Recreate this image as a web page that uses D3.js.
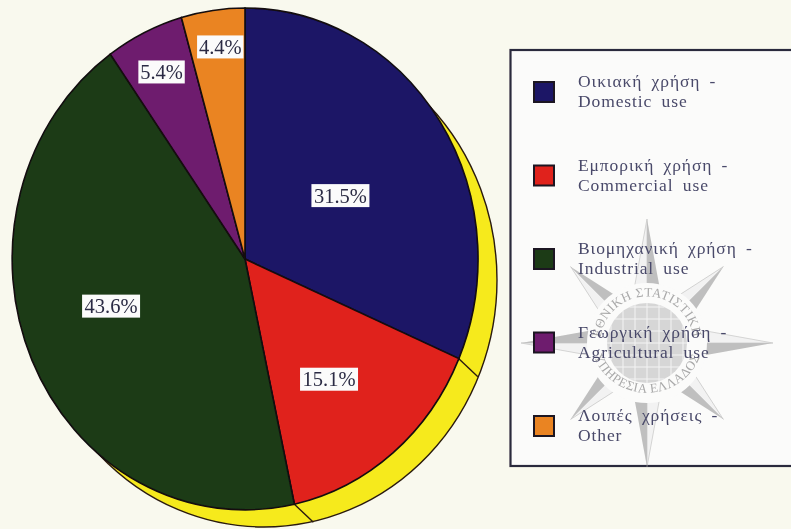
<!DOCTYPE html>
<html><head><meta charset="utf-8">
<script src="https://cdn.jsdelivr.net/npm/d3@7"></script>
<style>html,body{margin:0;padding:0;background:#f9f9ee;overflow:hidden}svg{display:block}</style>
</head><body><svg id="c" width="791" height="529"></svg>
<script>
const greekNames = ["Οικιακή χρήση -","Εμπορική χρήση -","Βιομηχανική χρήση -","Γεωργική χρήση -","Λοιπές χρήσεις -"];
const englishNames = ["Domestic use","Commercial use","Industrial use","Agricultural use","Other"];
const shares = [31.5,15.1,43.6,5.4,4.4];
const labels = ["31.5%","15.1%","43.6%","5.4%","4.4%"];
const colours = ["#1a1466","#e0201e","#1a3a16","#6e1a6e","#ea8420"];
const labelFractionX = [.49,.568,.628,.83,.77];
const labelFractionY = [.46,.62,.466,.826,.853];
const sealTop = "ΕΘΝΙΚΗ ΣΤΑΤΙΣΤΙΚΗ";
const sealBottom = "ΥΠΗΡΕΣΙΑ ΕΛΛΑΔΟΣ";

const svg = d3.select("#c");
const serif = "'Liberation Serif',serif";
const cx=245, cy=259, rx=233, ry=251, ox=19, oy=18;
const rimCx=264, rimCy=280, rimRx=233, rimRy=247;
const defs = svg.append("defs");
defs.append("filter").attr("id","soft").append("feGaussianBlur").attr("stdDeviation",.55);
const chart = svg.append("g").attr("filter","url(#soft)");

const arcs = d3.pie().value(d=>d).sort(null)(shares);
const arc = d3.arc().innerRadius(0).outerRadius(1);
const ink = "#2a1a10";

// yellow rim
const rim = chart.append("g");
rim.append("ellipse").attr("cx",rimCx).attr("cy",rimCy).attr("rx",rimRx).attr("ry",rimRy)
  .attr("fill","#f6ea1e").attr("stroke",ink).attr("stroke-width",1.4);
[arcs[0].endAngle, arcs[1].endAngle].forEach(a=>{
  const x=cx+rx*Math.sin(a), y=cy-ry*Math.cos(a);
  rim.append("line").attr("x1",x).attr("y1",y).attr("x2",x+ox).attr("y2",y+oy)
    .attr("stroke",ink).attr("stroke-width",1.4);
});

// slices
const pieG = chart.append("g").attr("transform",`translate(${cx},${cy}) scale(${rx},${ry})`);
pieG.selectAll("path").data(arcs).join("path")
  .attr("d",arc).attr("fill",(d,i)=>colours[i])
  .attr("stroke","#120c10").attr("stroke-width",1.6).attr("vector-effect","non-scaling-stroke");

// value labels
const lab = chart.append("g");
arcs.forEach((d,i)=>{
  const m=(d.startAngle+d.endAngle)/2;
  const x=cx+rx*labelFractionX[i]*Math.sin(m), y=cy-ry*labelFractionY[i]*Math.cos(m);
  const w=labels[i].length*11.6, h=23;
  lab.append("rect").attr("x",x-w/2).attr("y",y-h/2).attr("width",w).attr("height",h).attr("fill","#fbfbfb");
  lab.append("text").attr("x",x).attr("y",y+7).attr("text-anchor","middle")
    .attr("font-family",serif).attr("font-size",20.5).attr("fill","#2c2c44").text(labels[i]);
});

// legend box
const legend = svg.append("g").attr("filter","url(#soft)");
legend.append("rect").attr("x",510.5).attr("y",50).attr("width",290).attr("height",416)
  .attr("fill","#fbfbfa").attr("stroke","#2c2a3c").attr("stroke-width",2.2);

// watermark seal
const wm = legend.append("g").attr("transform","translate(647,343)").attr("opacity",.55);
d3.range(8).map(i=>i*45).forEach(deg=>{
  const long = deg%90===0;
  const len = long ? (deg%180===0?124:126) : 108, base = long?14:13;
  const g = wm.append("g").attr("transform",`rotate(${deg})`);
  g.append("path").attr("d",`M0,${-len}L${base},-48L0,-36Z`).attr("fill","#8e8e8e");
  g.append("path").attr("d",`M0,${-len}L${-base},-48L0,-36Z`).attr("fill","#ececec").attr("stroke","#999").attr("stroke-width",.7);
});
wm.append("circle").attr("r",60).attr("fill","#fbfbfa");
wm.append("circle").attr("r",40).attr("fill","#b8b8b8");
const grid = wm.append("g").attr("stroke","#efefef").attr("stroke-width",1);
d3.range(-36,37,12).forEach(v=>{
  const h=Math.sqrt(40*40-v*v);
  grid.append("line").attr("x1",v).attr("x2",v).attr("y1",-h).attr("y2",h);
  grid.append("line").attr("y1",v).attr("y2",v).attr("x1",-h).attr("x2",h);
});
defs.append("path").attr("id","sealTopPath").attr("d","M-43.8,16A46.6,46.6 0 1 1 43.8,16");
defs.append("path").attr("id","sealBottomPath").attr("d","M-57,-4A57.1,57.1 0 0 0 57,-4");
[["#sealTopPath",sealTop],["#sealBottomPath",sealBottom]].forEach(([href,t])=>{
  wm.append("text").attr("font-family",serif).attr("font-size",13).attr("fill","#666").attr("letter-spacing",.5)
    .attr("text-anchor","middle")
    .append("textPath").attr("href",href).attr("startOffset","50%").text(t);
});

// legend rows
const rowY = d3.scalePoint().domain(d3.range(5)).range([92,426]);
greekNames.forEach((g,i)=>{
  const y=rowY(i);
  legend.append("rect").attr("x",534).attr("y",y-10).attr("width",20).attr("height",20)
    .attr("fill",colours[i]).attr("stroke","#1c1420").attr("stroke-width",2);
  [[g,-5],[englishNames[i],15]].forEach(([t,dy])=>{
    legend.append("text").attr("x",578).attr("y",y+dy).attr("font-family",serif).attr("font-size",17.5)
      .attr("letter-spacing",.9).attr("word-spacing",4).attr("fill","#4a4a6a").text(t);
  });
});
</script></body></html>
